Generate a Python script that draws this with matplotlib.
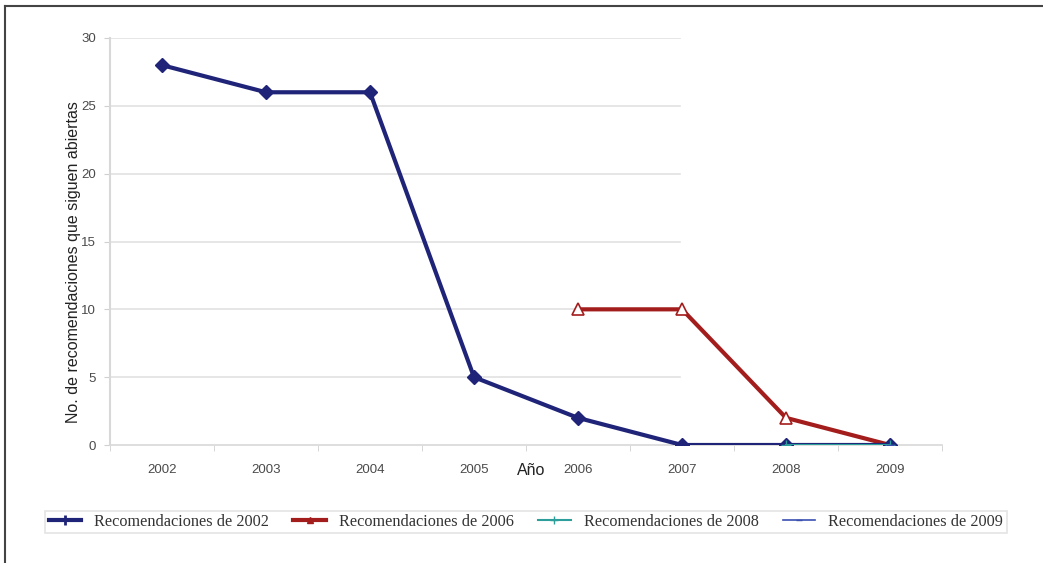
import matplotlib
matplotlib.use("Agg")
import matplotlib.pyplot as plt
from matplotlib.lines import Line2D

# Years on the category axis
years = ["2002", "2003", "2004", "2005", "2006", "2007", "2008", "2009"]

# Open recommendations per cohort
rec_2002 = [28, 26, 26, 5, 2, 0, 0, 0]
rec_2006 = [10, 10, 2, 0]          # from 2006 onward
rec_2008 = [0, 0]                  # from 2008 onward
rec_2009 = [0]                     # 2009 only

yticks = [0, 5, 10, 15, 20, 25, 30]

fig = plt.figure(figsize=(10.43, 5.63), dpi=100)
ax = fig.add_axes([110 / 1043, 1 - 445 / 563, (942 - 110) / 1043, (445 - 38) / 563])

x_all = list(range(len(years)))
x06 = x_all[years.index("2006"):]
x08 = x_all[years.index("2008"):]
x09 = x_all[years.index("2009"):]

navy = "#1f2478"
red = "#a31d1d"
teal = "#2e9e9a"
blue = "#3a4fb0"

# Horizontal gridlines (only over the left part of the plot)
for yv in yticks[1:]:
    ax.plot([-0.5, 4.98], [yv, yv], color="#e2e2e2", lw=1.2, zorder=0)

l1, = ax.plot(x_all, rec_2002, color=navy, lw=3, marker="D", ms=7,
              label="Recomendaciones de 2002", zorder=3)
l2, = ax.plot(x06, rec_2006, color=red, lw=3, marker="^", ms=9,
              markerfacecolor="white", markeredgecolor=red, markeredgewidth=1.2,
              label="Recomendaciones de 2006", zorder=2)
l3, = ax.plot(x08, rec_2008, color=teal, lw=1.5, marker="+", ms=7,
              label="Recomendaciones de 2008", zorder=4)
l4, = ax.plot(x09, rec_2009, color=blue, lw=1.2, marker="_", ms=6,
              label="Recomendaciones de 2009", zorder=5)

ax.set_xlim(-0.5, 7.5)
ax.set_ylim(0, 30)
ax.set_yticks(yticks)
ax.set_yticklabels([str(v) for v in yticks])
ax.set_xticks(x_all)
ax.set_xticklabels(years)
ax.set_xticks([i - 0.5 for i in range(len(years) + 1)], minor=True)
ax.tick_params(axis="x", which="major", length=0, pad=14, labelsize=9.5, labelcolor="#4a4a4a")
ax.tick_params(axis="x", which="minor", length=4, color="#d0d0d0", direction="out")
ax.tick_params(axis="y", length=4, color="#d0d0d0", labelsize=9.5, labelcolor="#4a4a4a", pad=6)

for side in ["top", "right"]:
    ax.spines[side].set_visible(False)
ax.spines["left"].set_color("#d8d8d8")
ax.spines["left"].set_linewidth(1.5)
ax.spines["bottom"].set_color("#d8d8d8")
ax.spines["bottom"].set_linewidth(1.2)

for lab in ax.get_xticklabels() + ax.get_yticklabels():
    lab.set_family("Liberation Sans")

ax.set_ylabel("No. de recomendaciones que siguen abiertas", family="Liberation Sans",
              fontsize=11.5, color="#222222")
ax.yaxis.set_label_coords(-0.035, 0.45)
ax.text(3.55, -0.062, "Año", transform=ax.get_xaxis_transform(), ha="center", va="center",
        family="Liberation Sans", fontsize=11.5, color="#222222")

handles = [
    Line2D([], [], color=navy, lw=3, marker="+", ms=7, mew=2),
    Line2D([], [], color=red, lw=3, marker="^", ms=5, markerfacecolor=red),
    Line2D([], [], color=teal, lw=1.5, marker="+", ms=6),
    Line2D([], [], color=blue, lw=1.2, marker="_", ms=5),
]
labels = [l1.get_label(), l2.get_label(), l3.get_label(), l4.get_label()]
leg = fig.legend(handles, labels, loc="center", bbox_to_anchor=(526 / 1043, 1 - 522 / 563),
                 ncol=4, frameon=True, fancybox=False, handlelength=2.0, handletextpad=0.8,
                 columnspacing=1.5, borderpad=0.2, borderaxespad=0.0,
                 prop={"family": "Liberation Serif", "size": 11.7})
leg.get_frame().set_edgecolor("#dddddd")
leg.get_frame().set_linewidth(1.2)
for t in leg.get_texts():
    t.set_color("#333333")

# Frame lines along the top and left edges of the figure
fig.add_artist(Line2D([5 / 1043, 1.0], [1 - 6 / 563, 1 - 6 / 563], color="#444444", lw=1.5))
fig.add_artist(Line2D([5 / 1043, 5 / 1043], [0, 1 - 6 / 563], color="#444444", lw=1.5))

fig.savefig("out.png", dpi=100)
